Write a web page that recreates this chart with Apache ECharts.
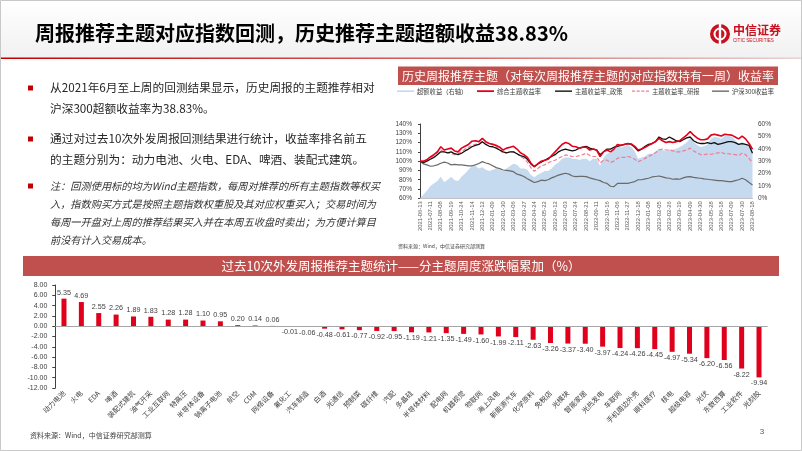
<!DOCTYPE html>
<html><head><meta charset="utf-8">
<script src="https://cdn.jsdelivr.net/npm/echarts@6/dist/echarts.min.js"></script>
<style>html,body{margin:0;padding:0;background:#fff}#c{width:802px;height:451px}</style>
</head><body><div id="c"></div>
<script>
// ---------- Line chart data (weekly backtest, %) ----------
const dates = [
'2021-06-13','2021-06-20','2021-06-27','2021-07-11','2021-07-18','2021-07-25',
'2021-08-08','2021-08-22','2021-09-05','2021-09-19','2021-10-10','2021-10-17',
'2021-10-24','2021-10-31','2021-11-07','2021-11-14','2021-11-21','2021-11-28',
'2021-12-12','2021-12-19','2021-12-26','2022-01-09','2022-01-16','2022-01-23',
'2022-01-30','2022-02-13','2022-02-20','2022-03-06','2022-03-13','2022-03-20',
'2022-03-27','2022-04-10','2022-04-17','2022-04-24','2022-05-08','2022-05-15',
'2022-05-22','2022-05-29','2022-06-05','2022-06-12','2022-06-19','2022-06-26',
'2022-07-03','2022-07-10','2022-07-17','2022-07-24','2022-07-31','2022-08-14',
'2022-08-21','2022-08-28','2022-09-04','2022-09-11','2022-09-18','2022-10-09',
'2022-10-16','2022-10-23','2022-10-30','2022-11-06','2022-11-13','2022-11-20',
'2022-11-27','2022-12-04','2022-12-11','2022-12-18','2022-12-25','2023-01-01',
'2023-01-08','2023-01-15','2023-01-29','2023-02-05','2023-02-12','2023-02-19',
'2023-02-26','2023-03-05','2023-03-12','2023-03-19','2023-03-26','2023-04-02',
'2023-04-09','2023-04-16','2023-04-23','2023-04-30','2023-05-14','2023-05-21',
'2023-05-28','2023-06-04','2023-06-11','2023-06-18','2023-06-25','2023-07-02',
'2023-07-09','2023-07-16','2023-07-23','2023-07-30','2023-08-06','2023-08-13',
'2023-08-18'
];
const excessReturn = [
0,3,6,10,12,14,17.5,13,15,17.5,14.5,14,17.5,20,23,26,26,24,25,23,22,23,24,23,
22,24,26,28,27,24,24,23,19,17,19,20.5,22,22,24,27,29,32,33,33,32,32,31,32,
32,30,32,32,26,33,36,37,40,42,41,42,43,41.5,38,32,33,34,36,36,37.6,40.5,39,38,
39.5,39.5,40,41.5,43,45,48.5,45.5,43,41.5,42,43.5,48,49.5,49,48,50.5,50.5,50,47,
44,45.5,44,42,38.83
];
const compositeReturn = [
100,99.8,101.5,104.5,107,110,115.5,112,113,114,111,110,114,116,118,121.5,122,121,
124.5,121,119,118,117,115,112,114,115,116,113,109,107,104,98,94,97,100,101,102,
106,110,114,118,120,119,116,115.5,114,115,115,112,113,112,105,110,112,110,113,118,
117,118,119,118.5,116,112,113,115,117,119,121,124.5,122,120,121,120,121,122,125,128,
132,128,125,123,123,124,128,129,128,127,129,128.5,128,126,124,127,124,119,112.8
];
const policyReturn = [
100,98.5,100,102,104,107,110,110,109,110,108,107,108.5,111,113,115.5,117,118,
121,118,116,115.5,114,112,110,109,110,110,108,106,105,102,97,94,97,99,101,103,
105,107,110,112,113,112,111,112,114,115,116,114,113,112,107,110,113,113,115,116,
117,118,119,118,115,111,113,116,118,119,121,126,124,123.5,126,124,122,121,123,125,
126,122,120,119,119,120,119,120,118,119,120,121,121,120,118,119,118,117,108.5
];
const reportReturn = [
100,100,102,104,106,109,112,110,109,108.5,107,108,110,113,115,117,118,119,
121,120,119,119,116,112,109,109,110,110,108,105,103,99,93,89,92,95,96,98,
100,101,103,105,106.7,106,105,105,106,107,108.5,106,105,105,98,101,101,98.5,100,103,
104,104,105,104,102,99.5,101,103,105,107,109,112,113,112,112,111,110,110,111,112,
114,111,109,107,107,107.5,107.4,108,109,109.5,108,108,107.4,107,106,108.5,107,103,98.5
];
const hs300Return = [
100,97,96,94.5,95,96,97.7,99,98,96,96.5,96,96,95.5,95,95,96,97.5,
99.5,98,97,95,93,92,90.5,90,89.5,88.7,86,85,83.4,81,79,77,78,79.5,
79,80,82,83.4,85,86,87,86,84,83.4,83.5,83.5,83.4,82,81,80,79,77,
76,73,72.6,76,76,76,76,77,78,80,80,81,81.6,83,83.5,84,83,82,
81.6,80.5,81,80.5,82,83,83.4,82.5,82,81.6,81,80.5,80,79.5,79,79,
78.5,78,78,79,80,81.6,80,77,74.4
];
const lineSeriesNames = ['超额收益（右轴）','综合主题收益率','主题收益率_政策','主题收益率_研报','沪深300收益率'];

// ---------- Bar chart data (cumulative weekly change, %) ----------
const themes = ['动力电池','火电','EDA','啤酒','装配式建筑','油气开采','工业互联网','特高压','半导体设备','钠离子电池',
'航空','CDM','网络设备','氟化工','汽车制造','白酒','光通信','预制菜','碳纤维','汽配',
'多晶硅','半导体材料','配电网','机器视觉','物联网','海上风电','新能源汽车','化学原料','免税店','光模块',
'智能家居','光热发电','车联网','手机周边外壳','眼科医疗','核电','超级电容','光伏','东数西算','工业软件','光刻胶'];
const themeValues = [5.35,4.69,2.55,2.26,1.89,1.83,1.28,1.28,1.10,0.95,
0.20,0.14,0.06,-0.01,-0.06,-0.48,-0.61,-0.77,-0.92,-0.95,
-1.19,-1.21,-1.35,-1.49,-1.60,-1.99,-2.11,-2.63,-3.26,-3.37,
-3.40,-3.97,-4.24,-4.26,-4.45,-4.97,-5.34,-6.20,-6.56,-8.22,-9.94];

const CN = '"Noto Sans CJK SC", sans-serif';
const NUM = '"Liberation Sans", "Noto Sans CJK SC", sans-serif';

function txt(x, y, text, font, fill, align, valign) {
  return {type:'text', silent:true, style:{x:x, y:y, text:text, font:font, fill:fill||'#333',
    textAlign:align||'left', textVerticalAlign:valign||'middle'}};
}
function bullet(x, y) {
  return {type:'rect', silent:true, shape:{x:x, y:y-2.5, width:5, height:5}, style:{fill:'#c00000'}};
}

const graphics = [
  {type:'rect', silent:true, z:-10, shape:{x:0, y:0, width:802, height:58},
   style:{fill:new echarts.graphic.LinearGradient(0,0,0,1,[{offset:0,color:'#ffffff'},{offset:1,color:'#f1f1f1'}])}},
  {type:'rect', silent:true, shape:{x:0, y:57.5, width:802, height:1.6},
   style:{fill:new echarts.graphic.LinearGradient(0,0,1,0,[{offset:0,color:'#c00000'},{offset:0.6,color:'#d86a6a'},{offset:1,color:'#e9d3d3'}])}},
  {type:'rect', silent:true, shape:{x:0.5, y:0.5, width:801, height:450}, style:{fill:'none', stroke:'#c8c8c8', lineWidth:1}},
  txt(35, 33, '周报推荐主题对应指数回测，历史推荐主题超额收益38.83%', 'bold 20px ' + CN, '#000'),
  // logo
  {type:'circle', silent:true, shape:{cx:720, cy:34, r:10}, style:{fill:'#c8101e'}},
  {type:'circle', silent:true, shape:{cx:720, cy:34, r:5.5}, style:{fill:'none', stroke:'#fff', lineWidth:2}},
  {type:'rect', silent:true, shape:{x:718.8, y:24, width:2.4, height:20}, style:{fill:'#fff'}},
  txt(733, 30, '中信证券', 'bold 12px ' + CN, '#c8101e'),
  txt(733, 40.5, 'CITIC SECURITIES', '4.6px ' + NUM, '#c8101e'),
  // left text block
  bullet(28, 88), bullet(28, 139), bullet(28, 186),
  txt(50, 88, '从2021年6月至上周的回测结果显示，历史周报的主题推荐相对', '11.7px ' + CN, '#262626'),
  txt(50, 109, '沪深300超额收益率为38.83%。', '11.7px ' + CN, '#262626'),
  txt(50, 139, '通过对过去10次外发周报回测结果进行统计，收益率排名前五', '11.7px ' + CN, '#262626'),
  txt(50, 159.5, '的主题分别为：动力电池、火电、EDA、啤酒、装配式建筑。', '11.7px ' + CN, '#262626'),
  txt(50, 186, '注：回测使用标的均为Wind主题指数，每周对推荐的所有主题指数等权买', 'italic 10.2px ' + CN, '#333'),
  txt(50, 204.5, '入，指数购买方式是按照主题指数权重股及其对应权重买入；交易时间为', 'italic 10.2px ' + CN, '#333'),
  txt(50, 222.5, '每周一开盘对上周的推荐结果买入并在本周五收盘时卖出；为方便计算目', 'italic 10.2px ' + CN, '#333'),
  txt(50, 240, '前没有计入交易成本。', 'italic 10.2px ' + CN, '#333'),
  // right chart header
  {type:'rect', silent:true, shape:{x:398, y:66.5, width:380, height:18.5}, style:{fill:'#c0504d'}},
  txt(588, 76, '历史周报推荐主题（对每次周报推荐主题的对应指数持有一周）收益率', '12px ' + CN, '#fff', 'center'),
  txt(398, 246, '资料来源：Wind，中信证券研究部测算', '5px ' + CN, '#404040'),
  // bar chart header
  {type:'rect', silent:true, shape:{x:23, y:256, width:756, height:20}, style:{fill:'#c0504d'}},
  txt(401, 266, '过去10次外发周报推荐主题统计——分主题周度涨跌幅累加（%）', '12.5px ' + CN, '#fff', 'center'),
  txt(30, 435, '资料来源：Wind，中信证券研究部测算', '7px ' + CN, '#404040'),
  txt(762, 432, '3', '8px ' + NUM, '#595959', 'center')
];

const legendPos = [397, 477, 555, 632, 712];
const legendColors = ['#bcd4ec', '#e3001b', '#111111', '#ee7f95', '#6a6a6a'];
const dashIcon = 'path://M0,0h4v1h-4z M6,0h4v1h-4z M12,0h4v1h-4z M18,0h4v1h-4z';
const legends = lineSeriesNames.map((n, i) => ({
  data:[n], left:legendPos[i], top:88, padding:0, itemGap:0,
  itemWidth:17, itemHeight:(i === 1 ? 1.8 : 1.4), symbolKeepAspect:false,
  icon:(i === 3 ? dashIcon : 'rect'),
  itemStyle:{color:legendColors[i], borderWidth:0},
  textStyle:{fontSize:6.3, color:'#404040', fontFamily:CN, padding:[0,0,0,-2]}, selectedMode:false
}));

const barData = themeValues.map(v => ({value:v, label:{position: v >= 0 ? 'top' : 'bottom'}}));

const option = {
  animation:false,
  backgroundColor:'#fff',
  graphic:graphics,
  legend:legends,
  grid:[
    {left:420, top:124, width:332.5, height:74.3},
    {left:55.3, top:285, width:712.4, height:103}
  ],
  xAxis:[
    {type:'category', gridIndex:0, data:dates, boundaryGap:false,
     axisLine:{show:true, lineStyle:{color:'#bfbfbf', width:1}}, axisTick:{show:false},
     axisLabel:{interval:2, rotate:90, fontSize:5.8, color:'#595959', margin:3, fontFamily:NUM}},
    {type:'category', gridIndex:1, data:themes,
     axisLine:{show:false}, axisTick:{show:false},
     axisLabel:{interval:0, rotate:45, fontSize:7, color:'#404040', margin:4, fontFamily:CN}}
  ],
  yAxis:[
    {type:'value', gridIndex:0, min:60, max:140, interval:10,
     axisLine:{show:true, lineStyle:{color:'#404040', width:1}}, axisTick:{show:true, length:2, lineStyle:{color:'#404040'}},
     splitLine:{show:false},
     axisLabel:{formatter:'{value}%', fontSize:6.5, color:'#404040', margin:8, fontFamily:NUM}},
    {type:'value', gridIndex:0, position:'right', min:0, max:60, interval:10,
     axisLine:{show:false}, axisTick:{show:false}, splitLine:{show:false},
     axisLabel:{formatter:'{value}%', fontSize:6.5, color:'#404040', margin:5.5, fontFamily:NUM}},
    {type:'value', gridIndex:1, min:-12, max:8, interval:2,
     axisLine:{show:true, lineStyle:{color:'#404040', width:1}}, axisTick:{show:true, length:3, lineStyle:{color:'#404040'}},
     splitLine:{show:false},
     axisLabel:{formatter:v => v.toFixed(2), fontSize:7, color:'#404040', margin:8, fontFamily:NUM}}
  ],
  series:[
    {name:lineSeriesNames[0], type:'line', xAxisIndex:0, yAxisIndex:1, data:excessReturn, symbol:'none',
     lineStyle:{width:0, color:'#bcd4ec'}, itemStyle:{color:'#bcd4ec'}, areaStyle:{color:'#c5d9ef', opacity:1}, z:1},
    {name:lineSeriesNames[1], type:'line', xAxisIndex:0, yAxisIndex:0, data:compositeReturn, symbol:'none',
     lineStyle:{width:1.6, color:'#e3001b'}, itemStyle:{color:'#e3001b'}, z:5},
    {name:lineSeriesNames[2], type:'line', xAxisIndex:0, yAxisIndex:0, data:policyReturn, symbol:'none',
     lineStyle:{width:1.3, color:'#111'}, itemStyle:{color:'#111'}, z:4},
    {name:lineSeriesNames[3], type:'line', xAxisIndex:0, yAxisIndex:0, data:reportReturn, symbol:'none',
     lineStyle:{width:1.2, color:'#ee7f95', type:[4,2]}, itemStyle:{color:'#ee7f95'}, z:3},
    {name:lineSeriesNames[4], type:'line', xAxisIndex:0, yAxisIndex:0, data:hs300Return, symbol:'none',
     lineStyle:{width:1.2, color:'#6a6a6a'}, itemStyle:{color:'#6a6a6a'}, z:3},
    {name:'分主题周度涨跌幅累加', type:'bar', xAxisIndex:1, yAxisIndex:2, data:barData, barWidth:5,
     itemStyle:{color:'#e0001b'},
     label:{show:true, fontSize:7.2, color:'#404040', distance:2.5, fontFamily:NUM,
       formatter:p => p.value.toFixed(2)},
     markLine:{silent:true, symbol:'none', label:{show:false},
       lineStyle:{color:'#a6a6a6', width:1, type:'solid'}, data:[{yAxis:0}]}}
  ]
};
const chart = echarts.init(document.getElementById('c'), null, {renderer:'canvas'});
chart.setOption(option);
</script>
</body></html>
